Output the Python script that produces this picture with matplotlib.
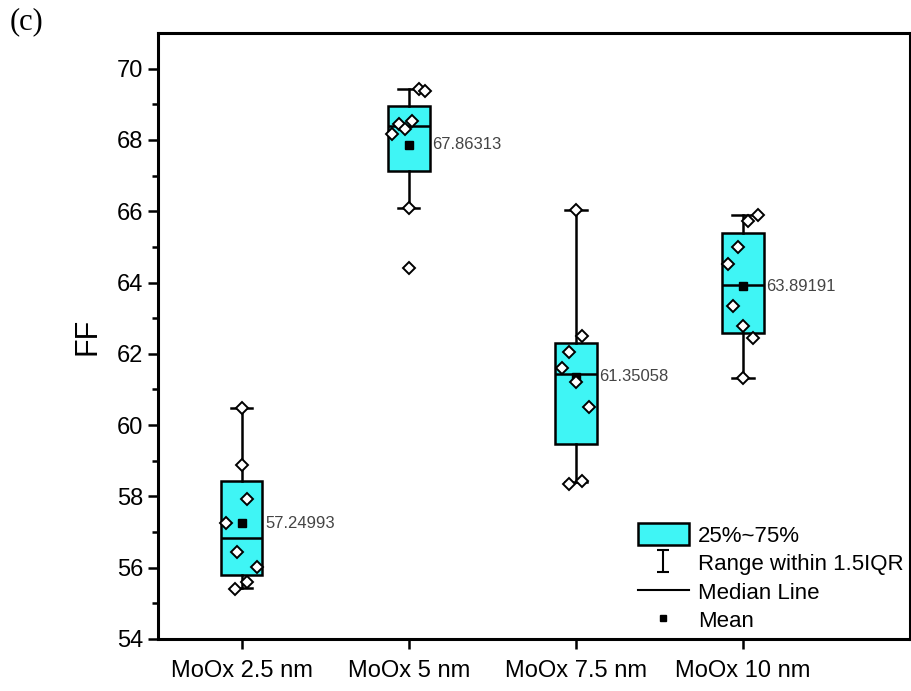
import numpy as np
import matplotlib
matplotlib.use('Agg')
import matplotlib.pyplot as plt
from matplotlib.patches import Patch
from matplotlib.lines import Line2D
from matplotlib.path import Path

plt.rcParams['font.family'] = ['Liberation Sans', 'DejaVu Sans']

# groups and values
labels = ['MoOx 2.5 nm', 'MoOx 5 nm', 'MoOx 7.5 nm', 'MoOx 10 nm']
points = [
    [60.49, 58.87, 57.92, 57.24, 56.43, 56.01, 55.59, 55.40],
    [69.44, 69.36, 68.52, 68.46, 68.32, 68.18, 66.08, 64.41],
    [66.03, 62.50, 62.06, 61.61, 61.22, 60.52, 58.36, 58.42],
    [65.89, 65.72, 64.99, 64.52, 63.34, 62.78, 62.45, 61.33],
]
# horizontal scatter of the raw points (fraction of group spacing)
jitter = [
    [0.0, 0.0, 0.03, -0.09, -0.03, 0.09, 0.03, -0.04],
    [0.06, 0.10, 0.02, -0.06, -0.02, -0.10, 0.0, 0.0],
    [0.0, 0.04, -0.04, -0.08, 0.0, 0.08, -0.04, 0.04],
    [0.09, 0.03, -0.03, -0.09, -0.06, 0.0, 0.06, 0.0],
]
q1 = [55.79, 67.12, 59.48, 62.59]
q3 = [58.42, 68.94, 62.31, 65.38]
medians = [56.83, 68.38, 61.44, 63.93]
whislo = [55.43, 66.08, 58.39, 61.33]
whishi = [60.49, 69.44, 66.03, 65.89]
means = [57.24993, 67.86313, 61.35058, 63.89191]

fig = plt.figure(figsize=(9.12, 6.91), dpi=100)
ax = fig.add_axes([0.1732, 0.0753, 0.8246, 0.8769])

pos = np.arange(1, len(labels) + 1)
stats = []
for i in range(len(labels)):
    stats.append({'med': medians[i], 'q1': q1[i], 'q3': q3[i],
                  'whislo': whislo[i], 'whishi': whishi[i],
                  'mean': means[i], 'fliers': []})

box_color = '#3ff5f5'
ax.bxp(stats, positions=pos, widths=0.25, capwidths=0.13, patch_artist=True,
       showmeans=False, showfliers=False,
       boxprops=dict(facecolor=box_color, edgecolor='black', linewidth=1.8),
       medianprops=dict(color='black', linewidth=1.8),
       whiskerprops=dict(color='black', linewidth=1.8),
       capprops=dict(color='black', linewidth=1.8), zorder=2)

# mean markers
ax.plot(pos, means, 's', color='black', markersize=5.5, linestyle='none', zorder=3)

# raw data points
for i in range(len(labels)):
    xs = pos[i] + np.array(jitter[i])
    ax.plot(xs, points[i], 'D', markerfacecolor='white', markeredgecolor='black',
            markeredgewidth=1.4, markersize=5.8, linestyle='none', zorder=4)
    ax.text(pos[i] + 0.14, means[i], f'{means[i]:.5f}', va='center', ha='left',
            fontsize=12, color='#444444', zorder=5)

ax.set_xlim(0.5, 5.0)
ax.set_ylim(54, 71)
ax.set_xticks(pos)
ax.set_xticklabels(labels, fontsize=17)
ax.set_yticks(np.arange(54, 71, 2))
ax.set_yticks(np.arange(55, 71, 2), minor=True)
ax.tick_params(axis='y', which='major', direction='out', length=7, width=1.8,
               labelsize=17, right=False)
ax.tick_params(axis='y', which='minor', direction='out', length=4, width=1.8)
ax.tick_params(axis='x', which='major', direction='out', length=7, width=1.8,
               top=False, pad=8)
ax.tick_params(axis='x', which='minor', bottom=False)
for sp in ax.spines.values():
    sp.set_linewidth(2.2)

ax.set_ylabel('FF', fontsize=22, labelpad=10)

# legend
cap_path = Path([(-0.5, -1), (0.5, -1), (0, -1), (0, 1), (-0.5, 1), (0.5, 1)],
                [Path.MOVETO, Path.LINETO, Path.MOVETO, Path.LINETO,
                 Path.MOVETO, Path.LINETO])
handles = [
    Patch(facecolor=box_color, edgecolor='black', linewidth=1.8),
    Line2D([], [], marker=cap_path, markersize=16, markeredgewidth=1.5,
           color='black', linestyle='none'),
    Line2D([], [], color='black', linewidth=1.5),
    Line2D([], [], marker='s', color='black', markersize=5, linestyle='none'),
]
ax.legend(handles, ['25%~75%', 'Range within 1.5IQR', 'Median Line', 'Mean'],
          loc='lower right', frameon=False, fontsize=16, handlelength=2.3,
          handleheight=1.15, labelspacing=0.22, handletextpad=0.4,
          borderpad=0.2, borderaxespad=0.1)

fig.text(0.011, 0.99, '(c)', fontsize=22, family='Liberation Serif',
         va='top', ha='left')

fig.savefig('out.png', dpi=100)
